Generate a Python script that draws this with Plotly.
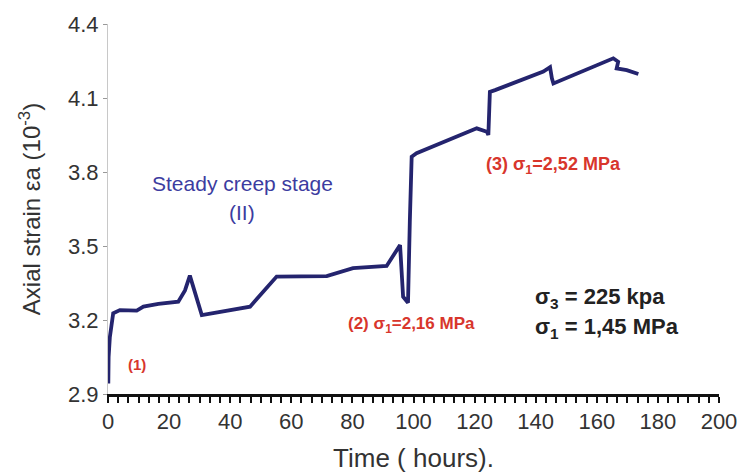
import plotly.graph_objects as go

time_h = [0.1, 0.2, 0.6, 1.7, 3.9, 9.4, 11.6, 16.5, 23.0, 24.1, 25.2, 26.8, 30.7, 46.5,
          55.2, 71.6, 80.2, 91.2, 95.0, 95.6, 96.6, 98.2, 98.8, 99.4, 101.0, 120.7, 124.0,
          124.5, 125.0, 126.7, 142.5, 144.1, 144.7, 145.3, 145.8, 165.4, 167.0, 166.5,
          169.8, 173.6]
strain = [2.943, 3.05, 3.13, 3.227, 3.24, 3.238, 3.254, 3.265, 3.274, 3.30, 3.32, 3.38, 3.22, 3.254,
          3.376, 3.378, 3.41, 3.419, 3.497, 3.504, 3.294, 3.27, 3.60, 3.862, 3.876, 3.977, 3.963,
          3.95, 4.125, 4.132, 4.207, 4.22, 4.225, 4.18, 4.159, 4.261, 4.247, 4.22,
          4.213, 4.197]

x_ticks = [0, 20, 40, 60, 80, 100, 120, 140, 160, 180, 200]
y_ticks = [2.9, 3.2, 3.5, 3.8, 4.1, 4.4]

navy = "#24246e"
red = "#d8362c"
blue_txt = "#3c3ca0"

fig = go.Figure()
fig.add_trace(go.Scatter(x=time_h, y=strain, mode="lines",
                         line=dict(color=navy, width=3.8), showlegend=False))

ff = "Arial, Liberation Sans, sans-serif"
annotations = [
    dict(x=43.9, y=3.755, text="Steady creep stage", font=dict(size=21, color=blue_txt, family=ff)),
    dict(x=43.9, y=3.634, text="(II)", font=dict(size=21, color=blue_txt, family=ff)),
    dict(x=9.5, y=3.018, text="<b>(1)</b>", font=dict(size=15, color=red, family=ff)),
    dict(x=99.2, y=3.18, text="<b>(2) σ<sub>1</sub>=2,16 MPa</b>", font=dict(size=17, color=red, family=ff)),
    dict(x=145.7, y=3.828, text="<b>(3) σ<sub>1</sub>=2,52 MPa</b>", font=dict(size=18, color=red, family=ff)),
    dict(x=139.1, y=3.289, text="<b>σ<sub>3</sub> = 225 kpa</b>", xanchor="left",
         font=dict(size=22, color="#222222", family=ff)),
    dict(x=139.1, y=3.168, text="<b>σ<sub>1</sub> = 1,45 MPa</b>", xanchor="left",
         font=dict(size=22, color="#222222", family=ff)),
]
for a in annotations:
    a.setdefault("xanchor", "center")
    a.update(xref="x", yref="y", showarrow=False, yanchor="middle")
fig.update_layout(annotations=annotations)

fig.update_layout(
    width=741, height=474,
    margin=dict(l=108, r=22, t=24, b=80, autoexpand=False),
    paper_bgcolor="white", plot_bgcolor="white",
    font=dict(family=ff, size=22, color="#333333"),
    xaxis=dict(range=[0, 200], tickvals=x_ticks, ticktext=[str(v) for v in x_ticks],
               automargin=False,
               showgrid=False, zeroline=False, showline=True, linecolor="#111111", linewidth=2.5,
               ticks="outside", ticklen=6, tickwidth=1.5, tickcolor="#111111",
               minor=dict(dtick=10/3, ticks="outside", ticklen=6, tickwidth=1.5, tickcolor="#111111"),
               title=dict(text="Time ( hours).", font=dict(size=26, color="#333333"), standoff=16),
               tickfont=dict(size=22, color="#333333")),
    yaxis=dict(range=[2.9, 4.4], tickvals=y_ticks, ticktext=[f"{v:.1f}" for v in y_ticks],
               automargin=False,
               showgrid=False, zeroline=False, showline=True, linecolor="#c8c8c8", linewidth=1,
               ticks="outside", ticklen=4, tickwidth=1, tickcolor="#999999",
               title=dict(text="Axial strain εa (10<sup>-3</sup>)", font=dict(size=24, color="#333333"),
                          standoff=20),
               tickfont=dict(size=22, color="#333333")),
)

fig.write_html("out.html")
